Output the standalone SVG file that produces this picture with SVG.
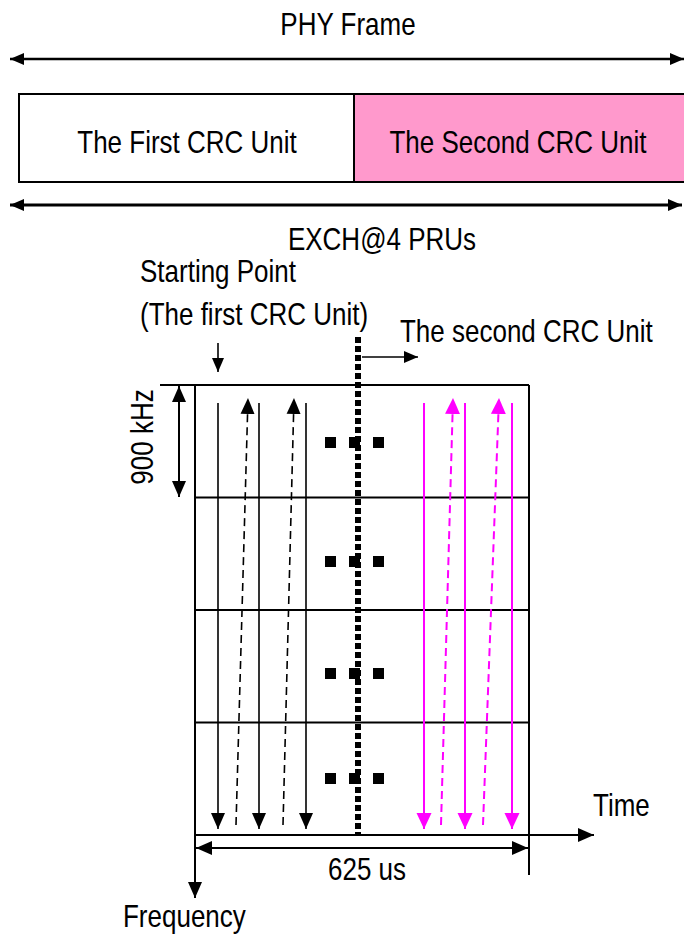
<svg xmlns="http://www.w3.org/2000/svg" width="684" height="936" viewBox="0 0 684 936">
<style>
text{font-family:"Liberation Sans",Arial,sans-serif;font-size:26px;fill:#000}
.ln{stroke:#000;stroke-width:2;fill:none}
.bk{stroke:#000;stroke-width:1.6;fill:none}
.pk{stroke:#FF00FF;stroke-width:2;fill:none}
.dash{stroke-dasharray:8 5}
</style>
<defs>
<marker id="a" markerUnits="userSpaceOnUse" markerWidth="16" markerHeight="16" refX="16" refY="8" orient="auto-start-reverse" viewBox="0 0 16 16"><path d="M0,1 L16,8 L0,15 z" fill="#000"/></marker>
<marker id="as" markerUnits="userSpaceOnUse" markerWidth="14" markerHeight="14" refX="14" refY="6" orient="auto-start-reverse" viewBox="0 0 14 12"><path d="M0,0 L14,6 L0,12 z" fill="#000"/></marker>
<marker id="ap" markerUnits="userSpaceOnUse" markerWidth="16" markerHeight="16" refX="16" refY="8" orient="auto" viewBox="0 0 16 16"><path d="M0,0.5 L16,8 L0,15.5 z" fill="#FF00FF"/></marker>
</defs>

<g id="phy-frame">
<text transform="translate(348,35) scale(1,1.18)" text-anchor="middle">PHY Frame</text>
</g>
<g id="first-unit">
<rect x="19" y="94" width="335" height="88" fill="#fff" stroke="#000" stroke-width="2"/>
<text transform="translate(187,153) scale(1,1.18)" text-anchor="middle">The First CRC Unit</text>
</g>
<g id="second-unit">
<rect x="354" y="94" width="340" height="88" fill="#FF99CC" stroke="#000" stroke-width="2"/>
<text transform="translate(518,153) scale(1,1.18)" text-anchor="middle">The Second CRC Unit</text>
</g>
<g id="exch">
<text transform="translate(382,250) scale(1,1.18)" text-anchor="middle">EXCH@4 PRUs</text>
</g>
<g id="starting-point">
<text transform="translate(140,282) scale(1,1.18)">Starting Point</text>
<text transform="translate(140,325) scale(1,1.18)">(The first CRC Unit)</text>
</g>
<g id="second-label">
<text transform="translate(400,342) scale(1,1.18)">The second CRC Unit</text>
</g>
<g id="khz">
<text transform="translate(153,437) rotate(-90) scale(1,1.18)" text-anchor="middle">900 kHz</text>
</g>
<g id="grid">
<line x1="160" y1="385" x2="529" y2="385" class="ln"/>
<line x1="195" y1="497.5" x2="529" y2="497.5" class="ln"/>
<line x1="195" y1="610" x2="529" y2="610" class="ln"/>
<line x1="195" y1="722.5" x2="529" y2="722.5" class="ln"/>
<line x1="529" y1="385" x2="529" y2="875" class="ln"/>
</g>
<g id="dots" fill="#000">
<rect x="325" y="437" width="11" height="11"/><rect x="349" y="437" width="11" height="11"/><rect x="373" y="437" width="11" height="11"/>
<rect x="325" y="556" width="11" height="11"/><rect x="349" y="556" width="11" height="11"/><rect x="373" y="556" width="11" height="11"/>
<rect x="325" y="668" width="11" height="11"/><rect x="349" y="668" width="11" height="11"/><rect x="373" y="668" width="11" height="11"/>
<rect x="325" y="773" width="11" height="11"/><rect x="349" y="773" width="11" height="11"/><rect x="373" y="773" width="11" height="11"/>
</g>
<g id="axes-labels">
<text transform="translate(593,816) scale(1,1.18)">Time</text>
<text transform="translate(123,927) scale(1,1.18)">Frequency</text>
<text transform="translate(367,880) scale(1,1.18)" text-anchor="middle">625 us</text>
</g>
<g id="connectors">
<line x1="10" y1="59" x2="684" y2="59" stroke="#000" stroke-width="2.5" marker-start="url(#as)" marker-end="url(#as)"/>
<line x1="10" y1="205" x2="682" y2="205" stroke="#000" stroke-width="3" marker-start="url(#as)" marker-end="url(#as)"/>
<line x1="218" y1="343" x2="218" y2="372" class="bk" marker-end="url(#as)"/>
<line x1="358" y1="337" x2="358" y2="835" stroke="#000" stroke-width="6" stroke-dasharray="6 3"/>
<line x1="362" y1="357" x2="418" y2="357" class="bk" marker-end="url(#as)"/>
<line x1="179" y1="386" x2="179" y2="497" class="ln" marker-start="url(#a)" marker-end="url(#a)"/>
<line x1="195" y1="385" x2="195" y2="898" class="ln" marker-end="url(#a)"/>
<line x1="195" y1="835" x2="594" y2="835" class="ln" marker-end="url(#a)"/>
<line x1="196" y1="848" x2="528" y2="848" class="ln" marker-start="url(#a)" marker-end="url(#a)"/>
<line x1="218" y1="403" x2="218" y2="829" class="bk" marker-end="url(#a)"/>
<line x1="259" y1="403" x2="259" y2="829" class="bk" marker-end="url(#a)"/>
<line x1="306" y1="403" x2="306" y2="829" class="bk" marker-end="url(#a)"/>
<line x1="236" y1="825" x2="248" y2="398" class="bk dash" marker-end="url(#a)"/>
<line x1="283" y1="825" x2="294" y2="398" class="bk dash" marker-end="url(#a)"/>
<line x1="424" y1="403" x2="424" y2="829" class="pk" marker-end="url(#ap)"/>
<line x1="465" y1="403" x2="465" y2="829" class="pk" marker-end="url(#ap)"/>
<line x1="512" y1="403" x2="512" y2="829" class="pk" marker-end="url(#ap)"/>
<line x1="441" y1="825" x2="453" y2="398" class="pk dash" marker-end="url(#ap)"/>
<line x1="483" y1="825" x2="499" y2="398" class="pk dash" marker-end="url(#ap)"/>
</g>
</svg>
